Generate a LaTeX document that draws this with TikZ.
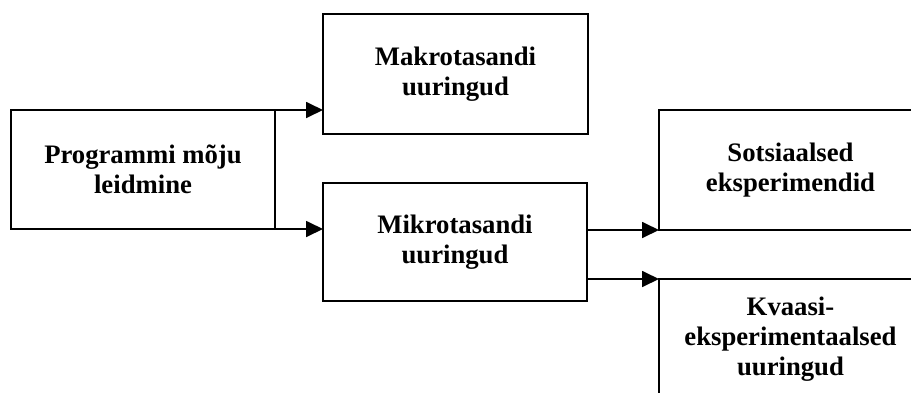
\documentclass[tikz,border=0pt]{standalone}
\usepackage{fontspec}
\setmainfont{Liberation Serif}
\usetikzlibrary{arrows.meta}
\begin{document}
\begin{tikzpicture}[x=1pt,y=-1pt,
  box/.style={draw, line width=1.8pt, rectangle, inner sep=0pt, outer sep=0pt,
    align=center, font=\bfseries\fontsize{26.7}{30}\selectfont},
  conn/.style={line width=1.8pt, -{Triangle[length=17pt,width=16pt]}}]
\clip (0,0) rectangle (911,392);
\fill[white] (0,0) rectangle (911,392);
\node[box, minimum width=264pt, minimum height=119pt] (prog) at (143,169.5) {Programmi mõju\\leidmine};
\node[box, minimum width=265pt, minimum height=120pt] (makro) at (455.5,74) {Makrotasandi\\uuringud};
\node[box, minimum width=264pt, minimum height=118pt] (mikro) at (455,242) {Mikrotasandi\\uuringud};
\node[box, minimum width=263pt, minimum height=120pt] (sots) at (790.5,170) {Sotsiaalsed\\eksperimendid};
\node[box, minimum width=263pt, minimum height=120pt] (kvaasi) at (790.5,339) {Kvaasi-\\eksperimentaalsed\\uuringud};
\draw[conn] (prog.north east) -- (prog.north east -| makro.west);
\draw[conn] (prog.south east) -- (prog.south east -| mikro.west);
\draw[conn] (mikro.east |- sots.south west) -- (sots.south west);
\draw[conn] (mikro.east |- kvaasi.north west) -- (kvaasi.north west);
\end{tikzpicture}
\end{document}
